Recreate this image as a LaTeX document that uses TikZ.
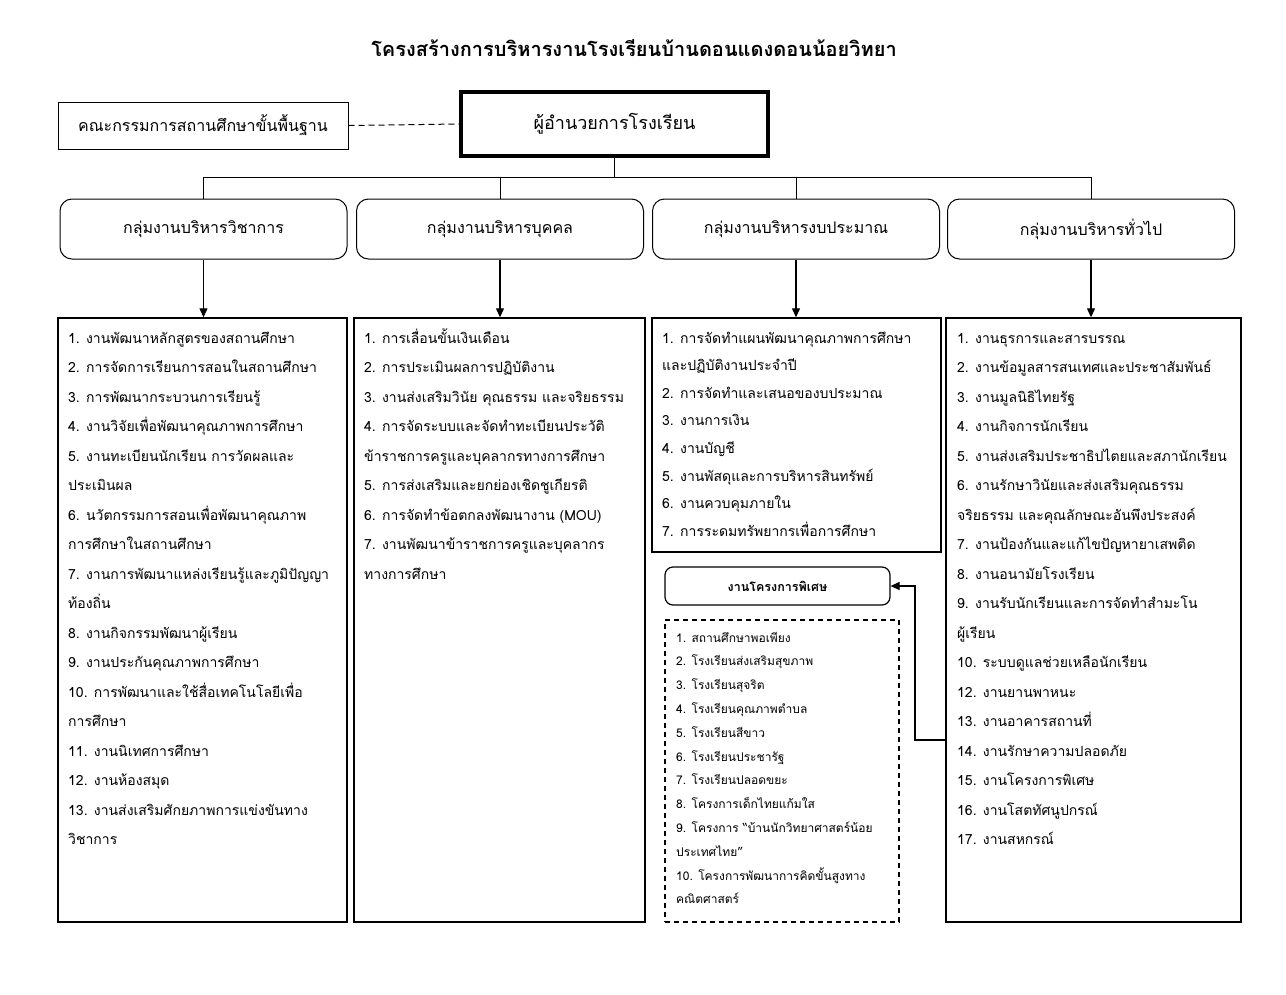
\documentclass[tikz,border=0pt]{standalone}
\usepackage{fontspec}
\setmainfont[Script=Thai]{Loma}
\usetikzlibrary{arrows.meta}
\begin{document}
\begin{tikzpicture}[x=1pt,y=-1pt,
  box/.style={draw,line width=1pt,inner sep=0pt},
  grp/.style={draw,line width=1pt,rounded corners=12pt,minimum width=287pt,minimum height=60pt,font=\fontsize{16}{19}\selectfont},
  lst/.style={draw,line width=1.4pt,inner sep=0pt},
  item/.style={anchor=base west,inner sep=0pt,font=\fontsize{14}{16}\selectfont},
  sitem/.style={anchor=base west,inner sep=0pt,font=\fontsize{12}{14}\selectfont},
  arr/.style={line width=1.2pt,-{Triangle[length=9pt,width=8pt]}},
  conn/.style={line width=0.8pt}]
\useasboundingbox[fill=white] (0,0) rectangle (1286,994);

\node[font=\bfseries\fontsize{20}{24}\selectfont] (title) at (634,48) {โครงสร้างการบริหารงานโรงเรียนบ้านดอนแดงดอนน้อยวิทยา};

\node[box,minimum width=290pt,minimum height=47pt,font=\fontsize{16}{19}\selectfont] (com) at (203,125.5) {คณะกรรมการสถานศึกษาขั้นพื้นฐาน};
\node[draw,line width=4.5pt,minimum width=307pt,minimum height=64pt,font=\fontsize{18}{22}\selectfont] (dir) at (614.5,124) {ผู้อำนวยการโรงเรียน};
\draw[line width=1pt,dash pattern=on 6pt off 4pt] (com.east) -- (dir.west);

\node[grp] (g1) at (203.5,229) {กลุ่มงานบริหารวิชาการ};
\node[grp] (g2) at (500,229) {กลุ่มงานบริหารบุคคล};
\node[grp] (g3) at (796,229) {กลุ่มงานบริหารงบประมาณ};
\node[grp] (g4) at (1091,229) {กลุ่มงานบริหารทั่วไป};

\coordinate (j) at (614.5,177);
\draw[conn] (dir.south) -- (j);
\draw[conn] (g1.north) -- (g1.north |- j) -- (g4.north |- j) -- (g4.north);
\draw[conn] (g2.north) -- (g2.north |- j);
\draw[conn] (g3.north) -- (g3.north |- j);

\node[lst,minimum width=289pt,minimum height=604pt] (l1) at (202.5,620) {};
\node[lst,minimum width=291pt,minimum height=604pt] (l2) at (499.5,620) {};
\node[lst,minimum width=289pt,minimum height=234pt] (l3) at (796.5,435) {};
\node[lst,minimum width=295pt,minimum height=604pt] (l4) at (1093.5,620) {};

\draw[arr] (g1.south) -- (g1.south |- l1.north);
\draw[arr] (g2.south) -- (g2.south |- l2.north);
\draw[arr] (g3.south) -- (g3.south |- l3.north);
\draw[arr] (g4.south) -- (g4.south |- l4.north);

\foreach \t [count=\i] in {
 {1. งานพัฒนาหลักสูตรของสถานศึกษา},
 {2. การจัดการเรียนการสอนในสถานศึกษา},
 {3. การพัฒนากระบวนการเรียนรู้},
 {4. งานวิจัยเพื่อพัฒนาคุณภาพการศึกษา},
 {5. งานทะเบียนนักเรียน การวัดผลและ},
 {ประเมินผล},
 {6. นวัตกรรมการสอนเพื่อพัฒนาคุณภาพ},
 {การศึกษาในสถานศึกษา},
 {7. งานการพัฒนาแหล่งเรียนรู้และภูมิปัญญา},
 {ท้องถิ่น},
 {8. งานกิจกรรมพัฒนาผู้เรียน},
 {9. งานประกันคุณภาพการศึกษา},
 {10. การพัฒนาและใช้สื่อเทคโนโลยีเพื่อ},
 {การศึกษา},
 {11. งานนิเทศการศึกษา},
 {12. งานห้องสมุด},
 {13. งานส่งเสริมศักยภาพการแข่งขันทาง},
 {วิชาการ}}
 \node[item] (a\i) at (68,{343+(\i-1)*29.5}) {\t};

\foreach \t [count=\i] in {
 {1. การเลื่อนขั้นเงินเดือน},
 {2. การประเมินผลการปฏิบัติงาน},
 {3. งานส่งเสริมวินัย คุณธรรม และจริยธรรม},
 {4. การจัดระบบและจัดทำทะเบียนประวัติ},
 {ข้าราชการครูและบุคลากรทางการศึกษา},
 {5. การส่งเสริมและยกย่องเชิดชูเกียรติ},
 {6. การจัดทำข้อตกลงพัฒนางาน (MOU)},
 {7. งานพัฒนาข้าราชการครูและบุคลากร},
 {ทางการศึกษา}}
 \node[item] (b\i) at (364,{343+(\i-1)*29.5}) {\t};

\foreach \t [count=\i] in {
 {1. การจัดทำแผนพัฒนาคุณภาพการศึกษา},
 {และปฏิบัติงานประจำปี},
 {2. การจัดทำและเสนอของบประมาณ},
 {3. งานการเงิน},
 {4. งานบัญชี},
 {5. งานพัสดุและการบริหารสินทรัพย์},
 {6. งานควบคุมภายใน},
 {7. การระดมทรัพยากรเพื่อการศึกษา}}
 \node[item] (c\i) at (662,{343+(\i-1)*27.6}) {\t};

\foreach \t [count=\i] in {
 {1. งานธุรการและสารบรรณ},
 {2. งานข้อมูลสารสนเทศและประชาสัมพันธ์},
 {3. งานมูลนิธิไทยรัฐ},
 {4. งานกิจการนักเรียน},
 {5. งานส่งเสริมประชาธิปไตยและสภานักเรียน},
 {6. งานรักษาวินัยและส่งเสริมคุณธรรม},
 {จริยธรรม และคุณลักษณะอันพึงประสงค์},
 {7. งานป้องกันและแก้ไขปัญหายาเสพติด},
 {8. งานอนามัยโรงเรียน},
 {9. งานรับนักเรียนและการจัดทำสำมะโน},
 {ผู้เรียน},
 {10. ระบบดูแลช่วยเหลือนักเรียน},
 {12. งานยานพาหนะ},
 {13. งานอาคารสถานที่},
 {14. งานรักษาความปลอดภัย},
 {15. งานโครงการพิเศษ},
 {16. งานโสตทัศนูปกรณ์},
 {17. งานสหกรณ์}}
 \node[item] (d\i) at (957,{343+(\i-1)*29.5}) {\t};

\node[draw,line width=1.2pt,rounded corners=8pt,minimum width=225pt,minimum height=38pt,font=\bfseries\fontsize{12.5}{15}\selectfont] (sp) at (777.5,586) {งานโครงการพิเศษ};
\node[draw,line width=1.2pt,dash pattern=on 5pt off 4pt,minimum width=234pt,minimum height=302pt] (spl) at (782,771) {};

\foreach \t [count=\i] in {
 {1. สถานศึกษาพอเพียง},
 {2. โรงเรียนส่งเสริมสุขภาพ},
 {3. โรงเรียนสุจริต},
 {4. โรงเรียนคุณภาพตำบล},
 {5. โรงเรียนสีขาว},
 {6. โรงเรียนประชารัฐ},
 {7. โรงเรียนปลอดขยะ},
 {8. โครงการเด็กไทยแก้มใส},
 {9. โครงการ “บ้านนักวิทยาศาสตร์น้อย},
 {ประเทศไทย”},
 {10. โครงการพัฒนาการคิดขั้นสูงทาง},
 {คณิตศาสตร์}}
 \node[sitem] (e\i) at (676,{642+(\i-1)*23.8}) {\t};

\coordinate (q) at (915,740);
\draw[arr] (l4.west |- q) -- (q) |- (sp.east);
\end{tikzpicture}
\end{document}
